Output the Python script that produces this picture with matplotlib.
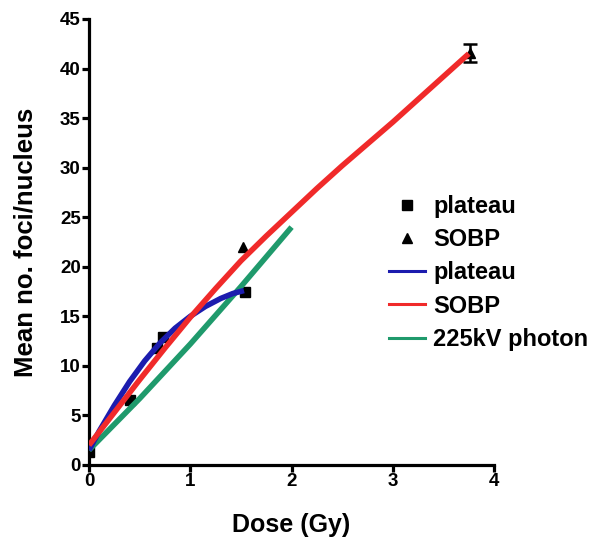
import matplotlib
matplotlib.use("Agg")
import matplotlib.pyplot as plt
from matplotlib.lines import Line2D

plt.rcParams['font.family'] = ['Liberation Sans', 'DejaVu Sans']
plt.rcParams['font.weight'] = 'bold'

# measured points
plateau_dose = [0.0, 0.40, 0.67, 0.73, 1.54]
plateau_foci = [1.3, 6.6, 11.8, 12.9, 17.5]
sobp_dose = [1.52, 3.76]
sobp_foci = [22.0, 41.6]
sobp_err_dose = [3.76]
sobp_err_foci = [41.6]
sobp_err = [0.9]

# fitted curves
fit_plateau_dose = [0.0, 0.1, 0.25, 0.4, 0.55, 0.7, 0.85, 1.0, 1.15, 1.3, 1.42, 1.53]
fit_plateau_foci = [1.5, 3.4, 6.0, 8.4, 10.5, 12.3, 13.8, 15.0, 16.0, 16.8, 17.3, 17.6]
fit_sobp_dose = [0.0, 0.25, 0.5, 0.75, 1.0, 1.25, 1.5, 1.75, 2.0, 2.25, 2.5,
                 2.75, 3.0, 3.25, 3.5, 3.75]
fit_sobp_foci = [2.0, 5.3, 8.6, 11.8, 14.9, 17.8, 20.6, 23.1, 25.5, 27.9, 30.2,
                 32.4, 34.6, 36.9, 39.2, 41.5]
fit_photon_dose = [0.0, 0.5, 1.0, 1.5, 2.0]
fit_photon_foci = [1.5, 6.7, 12.2, 18.0, 24.0]

fig = plt.figure(figsize=(5.91, 5.38), dpi=100)
ax = fig.add_axes([0.1506, 0.1357, 0.6855, 0.829])

ax.plot(plateau_dose, plateau_foci, 's', color='black', ms=7, zorder=2)
ax.plot(sobp_dose, sobp_foci, '^', color='black', ms=7.5, zorder=2)
ax.errorbar(sobp_err_dose, sobp_err_foci, yerr=sobp_err, fmt='none', ecolor='black',
            capsize=5, elinewidth=1.8, capthick=1.8, zorder=2)
ax.plot(fit_photon_dose, fit_photon_foci, color='#1f9a6c', lw=4, zorder=3,
        solid_capstyle='butt')
ax.plot(fit_plateau_dose, fit_plateau_foci, color='#1c1cae', lw=4, zorder=3,
        solid_capstyle='butt')
ax.plot(fit_sobp_dose, fit_sobp_foci, color='#f02a2a', lw=4, zorder=4,
        solid_capstyle='butt')

ax.set_xlim(0, 4)
ax.set_ylim(0, 45)
ax.set_xticks([0, 1, 2, 3, 4])
ax.set_yticks(range(0, 46, 5))
for s in ['top', 'right']:
    ax.spines[s].set_visible(False)
for s in ['left', 'bottom']:
    ax.spines[s].set_linewidth(2.3)
ax.tick_params(width=2.3, length=5, labelsize=13.5, pad=1)
for lab in ax.get_xticklabels() + ax.get_yticklabels():
    lab.set_fontweight('bold')

ax.set_xlabel('Dose (Gy)', fontsize=18, fontweight='bold', labelpad=16)
ax.set_ylabel('Mean no. foci/nucleus', fontsize=18.5, fontweight='bold', labelpad=16)

handles = [
    Line2D([], [], ls='none', marker='s', color='black', ms=7),
    Line2D([], [], ls='none', marker='^', color='black', ms=7),
    Line2D([], [], color='#1c1cae', lw=2.2),
    Line2D([], [], color='#f02a2a', lw=2.2),
    Line2D([], [], color='#1f9a6c', lw=2.2),
]
labels = ['plateau', 'SOBP', 'plateau', 'SOBP', '225kV photon']
leg = ax.legend(handles, labels, loc='upper left', bbox_to_anchor=(0.74, 0.605),
                frameon=False, fontsize=17, handlelength=1.55, handletextpad=0.33,
                labelspacing=0.43, borderaxespad=0, borderpad=0)
for t in leg.get_texts():
    t.set_fontweight('bold')

fig.savefig('out.png', dpi=100)
